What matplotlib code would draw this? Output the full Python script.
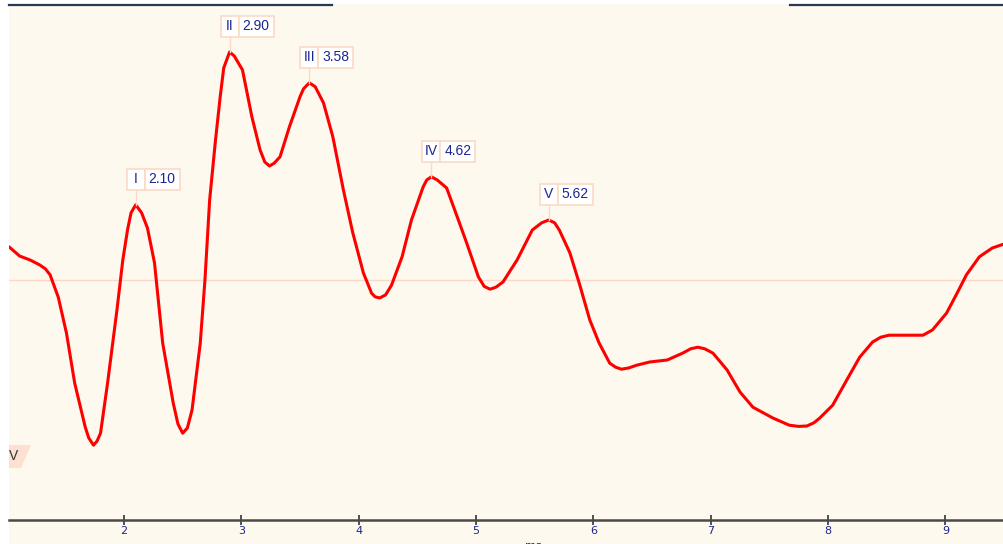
import matplotlib
matplotlib.use("Agg")
import matplotlib.pyplot as plt
from matplotlib.lines import Line2D
from matplotlib.patches import Polygon, Rectangle
from matplotlib.transforms import ScaledTranslation, blended_transform_factory

# averaged response, latency in ms and amplitude in uV
TIME_MS = [1.02, 1.11, 1.20, 1.28, 1.33, 1.37, 1.44, 1.51, 1.58, 1.67,
           1.70, 1.74, 1.77, 1.80, 1.86, 1.94, 1.99, 2.03, 2.06, 2.10,
           2.15, 2.20, 2.26, 2.33, 2.42, 2.46, 2.50, 2.54, 2.58, 2.65,
           2.69, 2.73, 2.78, 2.82, 2.85, 2.90, 2.94, 2.97, 3.01, 3.09,
           3.16, 3.20, 3.24, 3.28, 3.33, 3.41, 3.50, 3.53, 3.58, 3.63,
           3.70, 3.78, 3.87, 3.95, 4.04, 4.11, 4.14, 4.18, 4.23, 4.28,
           4.37, 4.45, 4.55, 4.58, 4.62, 4.67, 4.75, 4.84, 4.92, 5.02,
           5.07, 5.12, 5.17, 5.23, 5.35, 5.48, 5.56, 5.62, 5.67, 5.71,
           5.80, 5.88, 5.97, 6.05, 6.14, 6.19, 6.24, 6.30, 6.37, 6.48,
           6.63, 6.76, 6.83, 6.89, 6.95, 7.02, 7.14, 7.25, 7.36, 7.53,
           7.67, 7.75, 7.82, 7.88, 7.93, 8.04, 8.16, 8.27, 8.38, 8.45,
           8.52, 8.67, 8.81, 8.89, 9.01, 9.10, 9.18, 9.29, 9.40, 9.50]
AMPLITUDE_UV = [0.083, 0.060, 0.050, 0.038, 0.028, 0.013, -0.043, -0.133, -0.258, -0.368,
                -0.395, -0.413, -0.403, -0.383, -0.258, -0.075, 0.050, 0.125, 0.168, 0.188,
                0.168, 0.130, 0.043, -0.158, -0.308, -0.360, -0.383, -0.370, -0.325, -0.158,
                0.000, 0.200, 0.350, 0.458, 0.530, 0.570, 0.560, 0.545, 0.525, 0.408,
                0.325, 0.295, 0.285, 0.292, 0.308, 0.383, 0.458, 0.478, 0.493, 0.483,
                0.443, 0.358, 0.225, 0.118, 0.018, -0.033, -0.042, -0.045, -0.037, -0.013,
                0.058, 0.150, 0.233, 0.250, 0.258, 0.250, 0.230, 0.158, 0.093, 0.008,
                -0.016, -0.023, -0.018, -0.005, 0.050, 0.125, 0.143, 0.150, 0.143, 0.125,
                0.068, -0.008, -0.100, -0.158, -0.208, -0.218, -0.223, -0.220, -0.213, -0.205,
                -0.200, -0.183, -0.172, -0.168, -0.172, -0.183, -0.225, -0.280, -0.318, -0.345,
                -0.363, -0.366, -0.365, -0.357, -0.345, -0.313, -0.250, -0.193, -0.155, -0.143,
                -0.138, -0.138, -0.138, -0.125, -0.083, -0.033, 0.013, 0.058, 0.080, 0.090]

PEAK_NAMES = ["I", "II", "III", "IV", "V"]
PEAK_LATENCIES = [2.10, 2.90, 3.58, 4.62, 5.62]

X_TICKS = [2, 3, 4, 5, 6, 7, 8, 9]
CURSOR_LEVEL_UV = -0.44

CREAM = "#fef9ee"
PEACH = "#fbd9c6"
NAVY = "#1c2590"

assert len(TIME_MS) == len(AMPLITUDE_UV)

W, H = 1004, 544
fig = plt.figure(figsize=(W / 100, H / 100), dpi=100, facecolor="white")

# cream panel behind the plot and the tick labels
fig.patches.append(Rectangle((9 / W, 0), 1 - 9 / W, 1 - 4 / H,
                             transform=fig.transFigure, facecolor=CREAM,
                             edgecolor="none", zorder=-5))

ax = fig.add_axes([9 / W, 24 / H, 1 - 9 / W, 516 / H])
ax.set_facecolor(CREAM)
ax.set_xlim(1.02, 9.50)
ax.set_ylim(-0.60, 0.69)

for side in ["left", "right", "top"]:
    ax.spines[side].set_visible(False)
ax.spines["bottom"].set_color("#4a4a4a")
ax.spines["bottom"].set_linewidth(1.8)

ax.set_yticks([])
ax.set_xticks(X_TICKS)
ax.set_xticklabels([str(t) for t in X_TICKS], fontsize=8,
                   family="DejaVu Sans", color=NAVY)
ax.tick_params(axis="x", direction="inout", length=7, width=1.2,
               color="#333333", pad=1)

ax.axhline(0, color=PEACH, lw=1.0, zorder=1)
ax.plot(TIME_MS, AMPLITUDE_UV, color="#ff0000", lw=2.2,
        solid_joinstyle="round", solid_capstyle="round", zorder=3)

# peak markers: stem plus a two-cell label box, sized in pixels
px = 1 / 100
for name, lat in zip(PEAK_NAMES, PEAK_LATENCIES):
    amp = AMPLITUDE_UV[TIME_MS.index(lat)]
    tr = fig.dpi_scale_trans + ScaledTranslation(lat, amp, ax.transData)
    ax.add_line(Line2D([0, 0], [0, 15 * px], transform=tr, color=PEACH,
                       lw=1.0, zorder=4, clip_on=False))
    ax.add_patch(Rectangle((-9 * px, 15 * px), 18 * px, 21 * px, transform=tr,
                           facecolor="white", edgecolor=PEACH, lw=1.2,
                           zorder=5, clip_on=False))
    ax.add_patch(Rectangle((9 * px, 15 * px), 35 * px, 21 * px, transform=tr,
                           facecolor="white", edgecolor=PEACH, lw=1.2,
                           zorder=5, clip_on=False))
    ax.text(0, 25.5 * px, name, transform=tr, ha="center", va="center",
            fontsize=10, family="Liberation Sans", color=NAVY, zorder=6)
    ax.text(26.5 * px, 25.5 * px, f"{lat:.2f}", transform=tr, ha="center",
            va="center", fontsize=10, family="Liberation Sans", color=NAVY,
            zorder=6)

# level cursor tab on the left edge
cur = blended_transform_factory(ax.transAxes, ax.transData)
tab = fig.dpi_scale_trans + ScaledTranslation(0, CURSOR_LEVEL_UV, cur)
ax.add_patch(Polygon([(0, 11 * px), (22 * px, 11 * px), (12 * px, -12 * px),
                      (0, -12 * px)], closed=True, transform=tab,
                     facecolor="#fde0d2", edgecolor="none", zorder=2))
ax.text(5 * px, 0, "V", transform=tab, ha="center", va="center",
        fontsize=10, family="Liberation Sans", color="#333333", zorder=6)

# frame segments along the top edge
top = 1 - 4.5 / H
fig.add_artist(Line2D([9 / W, 332 / W], [top, top], color="#24395a", lw=1.6))
fig.add_artist(Line2D([790 / W, 1.0], [top, top], color="#24395a", lw=1.6))

fig.text(533 / W, 3 / H, "ms", ha="center", va="top", fontsize=8,
         family="DejaVu Sans", color=NAVY)

fig.savefig("out.png", dpi=100, facecolor=fig.get_facecolor())
